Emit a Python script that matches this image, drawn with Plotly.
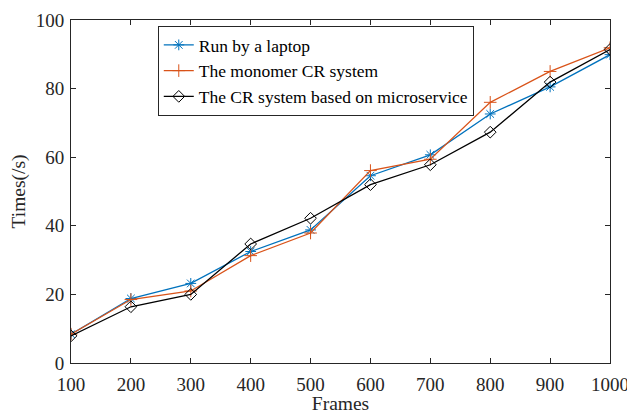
import plotly.graph_objects as go

frames = [100, 200, 300, 400, 500, 600, 700, 800, 900, 1000]
laptop = [8.4, 18.8, 23.2, 32.5, 38.8, 54.6, 60.7, 72.6, 80.5, 89.9]
monomer = [8.4, 18.5, 21.0, 31.3, 37.9, 56.1, 59.4, 76.0, 85.0, 91.9]
micro = [7.9, 16.4, 20.0, 34.7, 42.2, 52.0, 57.8, 67.3, 81.9, 91.4]

names = ["Run by a laptop", "The monomer CR system", "The CR system based on microservice"]
colors = ["#0072BD", "#D95319", "#000000"]
symbols = ["asterisk-open", "cross-thin-open", "diamond-open"]

fig = go.Figure()
for ys, n, c, s in zip([laptop, monomer, micro], names, colors, symbols):
    fig.add_trace(go.Scatter(
        x=frames, y=ys, mode="lines+markers", name=n,
        line=dict(color=c, width=1.3),
        marker=dict(symbol=s, size=9, color=c, line=dict(color=c, width=1)),
    ))

FONT = "Liberation Serif"
axis_common = dict(
    showline=True, mirror="ticks", linecolor="#262626", linewidth=1,
    ticks="inside", ticklen=5, tickcolor="#262626", showgrid=False, zeroline=False,
    automargin=False,
    tickfont=dict(family=FONT, size=19, color="#262626"),
)
fig.update_xaxes(range=[100, 1000], tickvals=frames, ticklabelstandoff=4,
                 title=dict(text="Frames", standoff=0,
                            font=dict(family=FONT, size=19.5, color="#262626")), **axis_common)
fig.update_yaxes(range=[0, 100], tickvals=[0, 20, 40, 60, 80, 100], ticklabelstandoff=2,
                 title=dict(text="Times(/s)", standoff=6,
                            font=dict(family=FONT, size=19.5, color="#262626")), **axis_common)

# The page body adds an 8px offset, so the figure is sized to fit the visible window.
fig.update_layout(
    width=627, height=406,
    margin=dict(l=63, r=25, t=12, b=51),
    paper_bgcolor="white", plot_bgcolor="white",
    font=dict(family=FONT, size=19, color="#262626"),
    legend=dict(x=0.161, y=0.9825, xanchor="left", yanchor="top",
                bgcolor="white", bordercolor="#262626", borderwidth=1,
                font=dict(family=FONT, size=17.5, color="#000"),
                tracegroupgap=0, itemwidth=30),
    showlegend=True,
)

fig.write_html("out.html")
